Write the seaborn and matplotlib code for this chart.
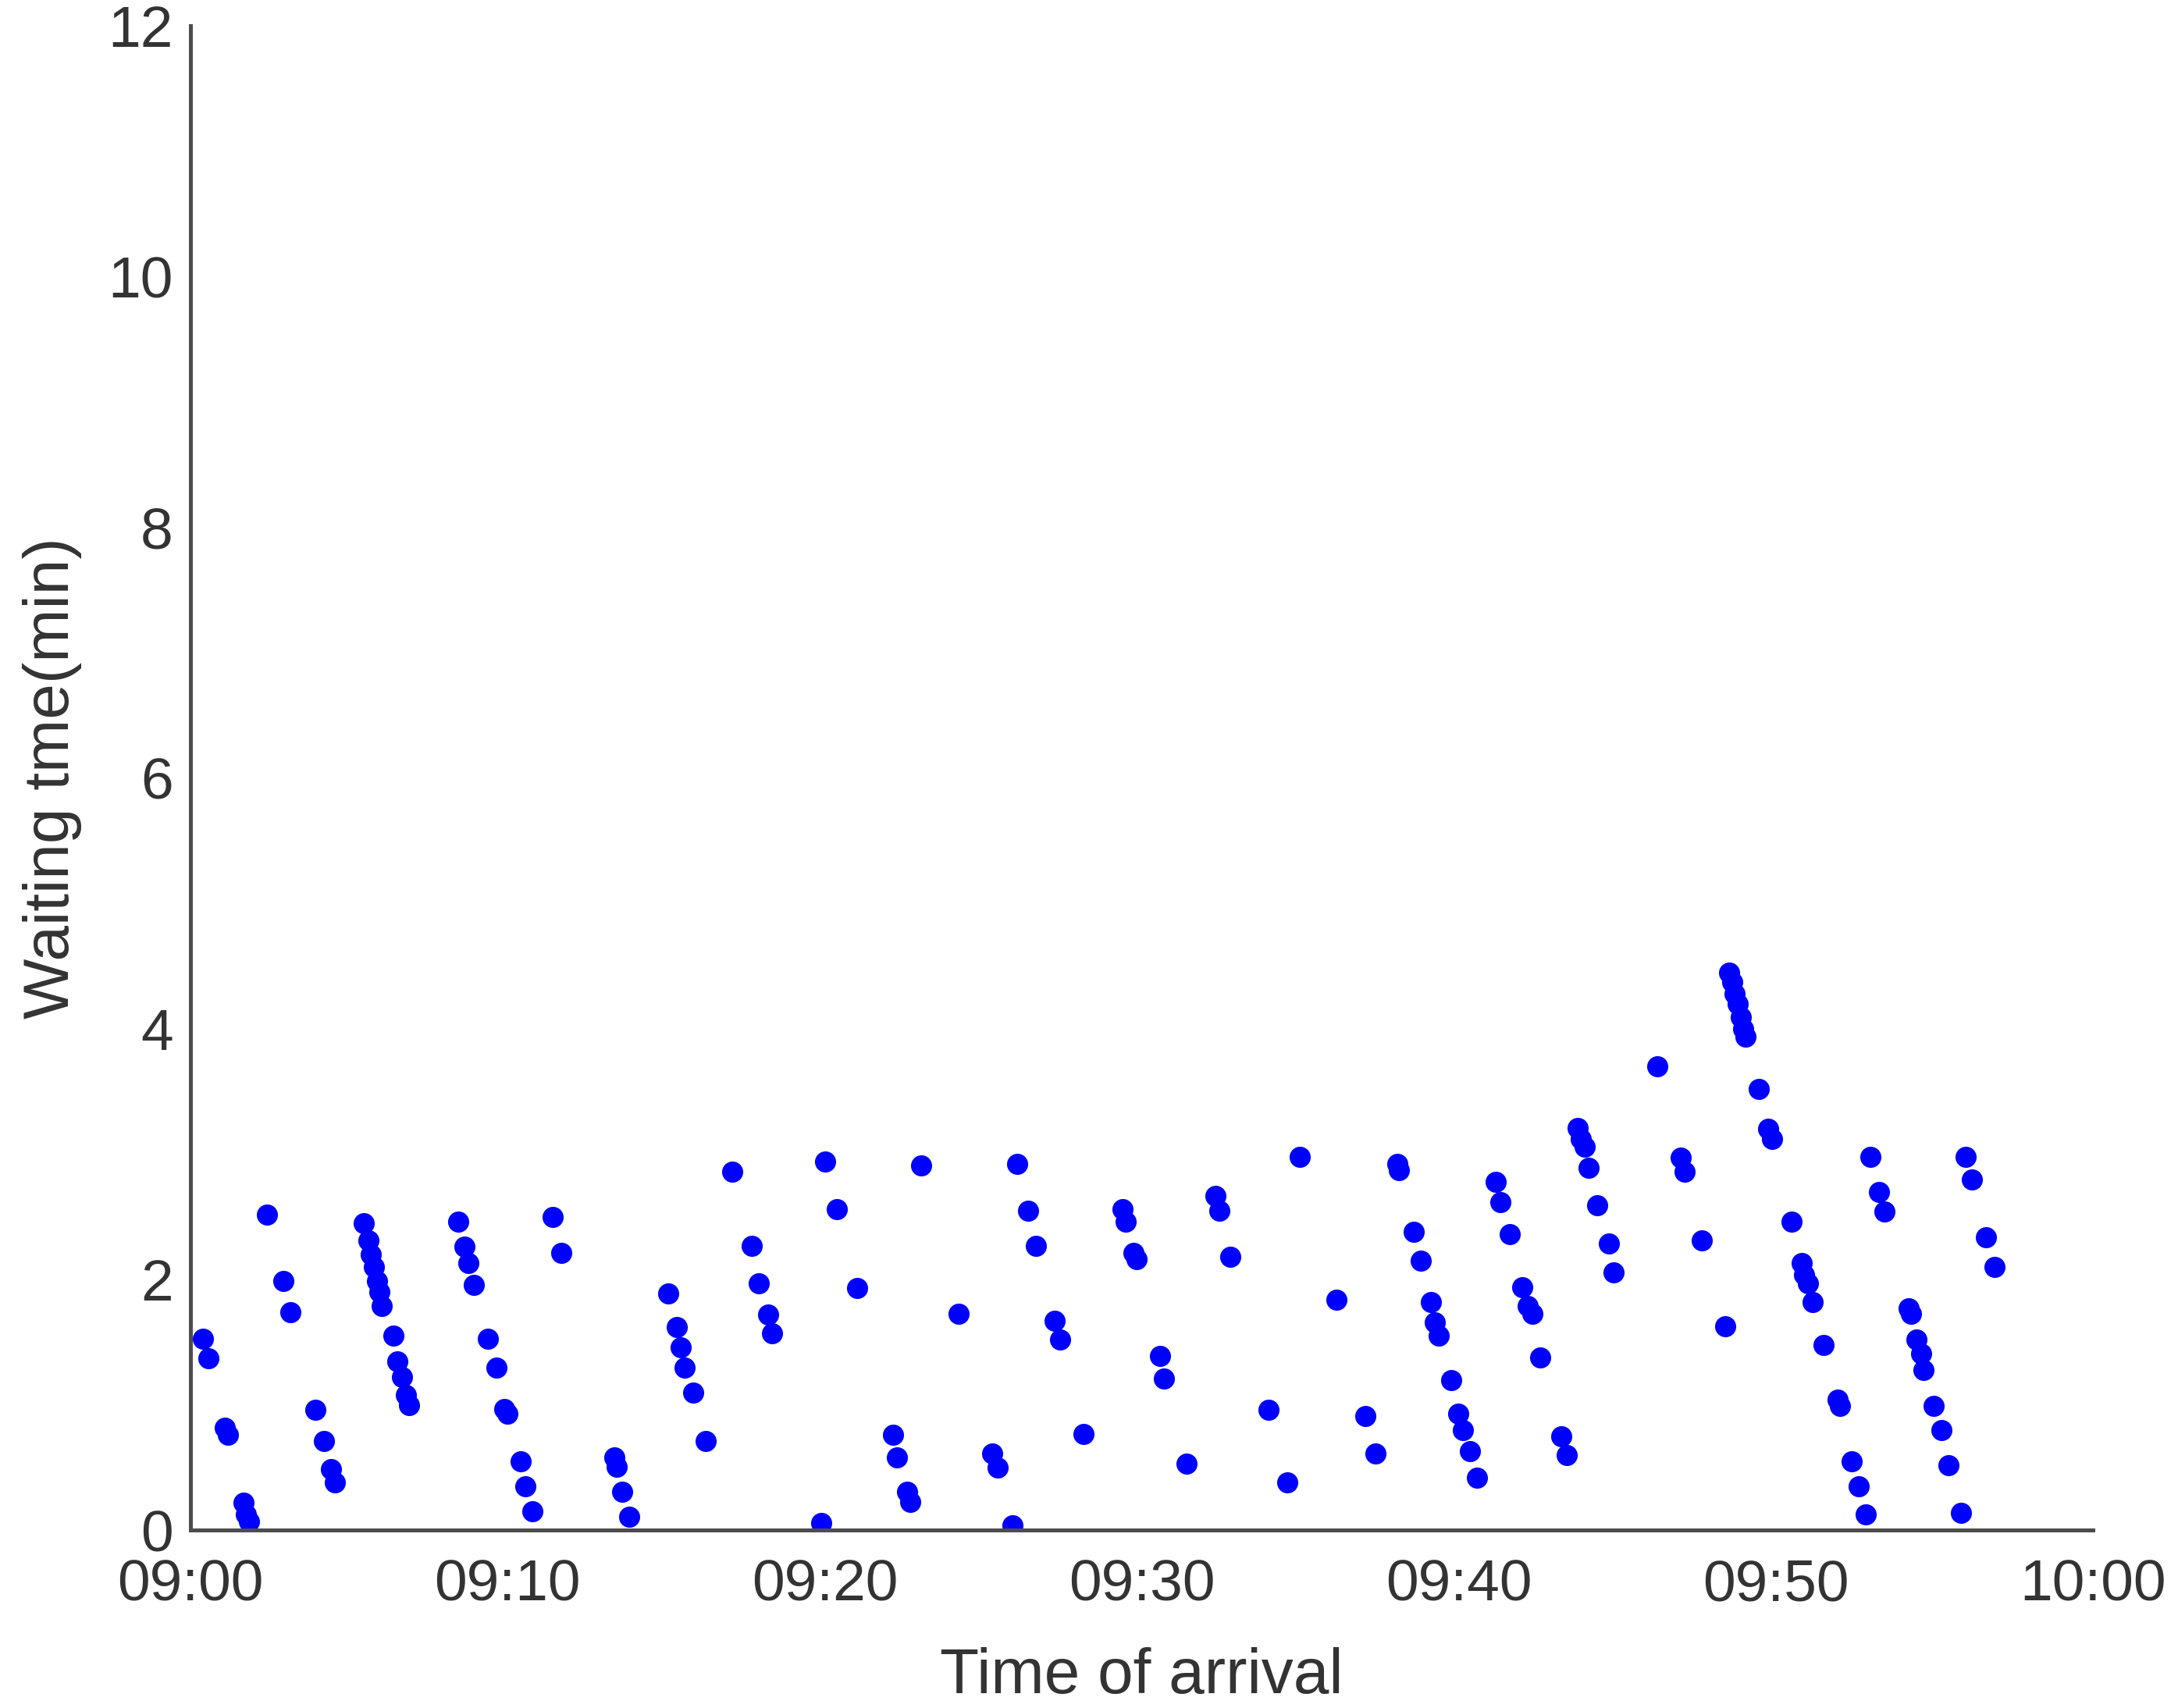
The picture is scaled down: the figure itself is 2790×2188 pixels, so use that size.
import pandas as pd
import matplotlib
matplotlib.use("Agg")
import matplotlib.pyplot as plt
import matplotlib.dates as mdates
import seaborn as sns

# minutes after 09:00 and waiting time (min)
arrival_min = [
    0.39, 0.57, 1.09, 1.18, 1.66, 1.75, 1.84, 2.41, 2.93, 3.15,
    3.94, 4.20, 4.42, 4.55,
    5.47, 5.61, 5.69, 5.78, 5.87, 5.96, 6.04, 6.39, 6.53, 6.66, 6.79, 6.88,
    8.45, 8.63, 8.76, 8.93, 9.37, 9.64, 9.90, 9.99, 10.42, 10.56, 10.77,
    11.43, 11.69, 13.36, 13.45, 13.62, 13.84,
    15.07, 15.33, 15.46, 15.59, 15.85, 16.25, 17.08,
    17.69, 17.91, 18.22, 18.35, 19.88, 20.01, 20.37, 21.02,
    22.16, 22.29, 22.60, 22.69, 23.04, 24.22, 25.27, 25.45,
    25.93, 26.06, 26.41, 26.67, 27.24, 27.42, 28.16,
    29.39, 29.48, 29.74, 29.83, 30.57, 30.70, 31.40,
    32.32, 32.45, 32.80, 33.99, 34.60, 34.99, 36.13, 37.05, 37.36,
    38.06, 38.10, 38.58, 38.80, 39.11, 39.24, 39.37,
    39.77, 39.99, 40.12, 40.34, 40.56,
    41.17, 41.30, 41.61, 42.00, 42.18, 42.31, 42.57, 43.23, 43.40,
    43.75, 43.84, 43.97, 44.10, 44.37, 44.72, 44.89,
    46.25, 46.99, 47.12, 47.65, 48.39,
    48.53, 48.61, 48.70, 48.79, 48.88, 48.96, 49.05,
    49.45, 49.75, 49.88, 50.50, 50.80, 50.89, 51.02, 51.15, 51.50,
    51.94, 52.03, 52.38, 52.60, 52.82,
    52.99, 53.26, 53.43, 54.18, 54.26, 54.44, 54.57, 54.66,
    54.97, 55.23, 55.45, 55.84, 55.97, 56.19, 56.63, 56.89,
]
waiting = [
    1.53, 1.37, 0.82, 0.76, 0.22, 0.13, 0.07, 2.52, 1.99, 1.74,
    0.96, 0.71, 0.49, 0.38,
    2.45, 2.31, 2.20, 2.10, 1.99, 1.90, 1.79, 1.55, 1.35, 1.22, 1.08, 1.00,
    2.46, 2.26, 2.13, 1.96, 1.53, 1.30, 0.97, 0.93, 0.55, 0.35, 0.15,
    2.50, 2.21, 0.58, 0.51, 0.31, 0.11,
    1.89, 1.62, 1.46, 1.30, 1.10, 0.71, 2.86,
    2.27, 1.97, 1.72, 1.57, 0.06, 2.94, 2.56, 1.93,
    0.76, 0.58, 0.31, 0.23, 2.91, 1.73, 0.61, 0.50,
    0.04, 2.92, 2.55, 2.27, 1.67, 1.52, 0.77,
    2.56, 2.46, 2.21, 2.16, 1.39, 1.21, 0.53,
    2.67, 2.55, 2.18, 0.96, 0.38, 2.98, 1.84, 0.91, 0.61,
    2.92, 2.87, 2.38, 2.15, 1.82, 1.66, 1.55,
    1.20, 0.93, 0.80, 0.63, 0.42,
    2.78, 2.62, 2.36, 1.94, 1.79, 1.73, 1.38, 0.75, 0.60,
    3.21, 3.12, 3.06, 2.89, 2.59, 2.29, 2.06,
    3.70, 2.97, 2.86, 2.31, 1.63,
    4.45, 4.37, 4.28, 4.20, 4.09, 4.00, 3.94,
    3.52, 3.20, 3.12, 2.46, 2.13, 2.04, 1.97, 1.82, 1.48,
    1.04, 0.99, 0.55, 0.35, 0.13,
    2.98, 2.70, 2.54, 1.77, 1.73, 1.52, 1.41, 1.28,
    0.99, 0.80, 0.52, 0.14, 2.98, 2.80, 2.34, 2.10,
]

start = pd.Timestamp("2020-01-01 09:00")
df = pd.DataFrame({
    "arrival": start + pd.to_timedelta(arrival_min, unit="min"),
    "wait": waiting,
})

sns.set_style("white")
plt.rcParams['font.family'] = ['Liberation Sans', 'DejaVu Sans']

fig = plt.figure(figsize=(13.95, 10.94), dpi=200)
ax = fig.add_axes([0.0875, 0.104, 0.8735, 0.881])

sns.scatterplot(data=df, x="arrival", y="wait", color="#0000ff", s=95,
                linewidth=0, ax=ax)

ax.set_xlim(start, start + pd.Timedelta(minutes=60))
ax.set_ylim(0, 12)
ax.set_yticks(range(0, 13, 2))
ax.xaxis.set_major_locator(mdates.MinuteLocator(byminute=range(0, 60, 10)))
ax.xaxis.set_major_formatter(mdates.DateFormatter("%H:%M"))

for side in ["top", "right"]:
    ax.spines[side].set_visible(False)
for side in ["left", "bottom"]:
    ax.spines[side].set_color("#4d4d4d")
    ax.spines[side].set_linewidth(1.8)

ax.tick_params(axis="both", direction="in", length=7, width=1.3,
               color="#4d4d4d", labelcolor="#333333", labelsize=27)
ax.tick_params(axis="x", pad=13)
ax.tick_params(axis="y", pad=8)

ax.set_xlabel("Time of arrival", fontsize=29.5, color="#333333", labelpad=16)
ax.set_ylabel("Waiting tme(min)", fontsize=29.5, color="#333333", labelpad=12)

fig.savefig("out.png", dpi=200)
